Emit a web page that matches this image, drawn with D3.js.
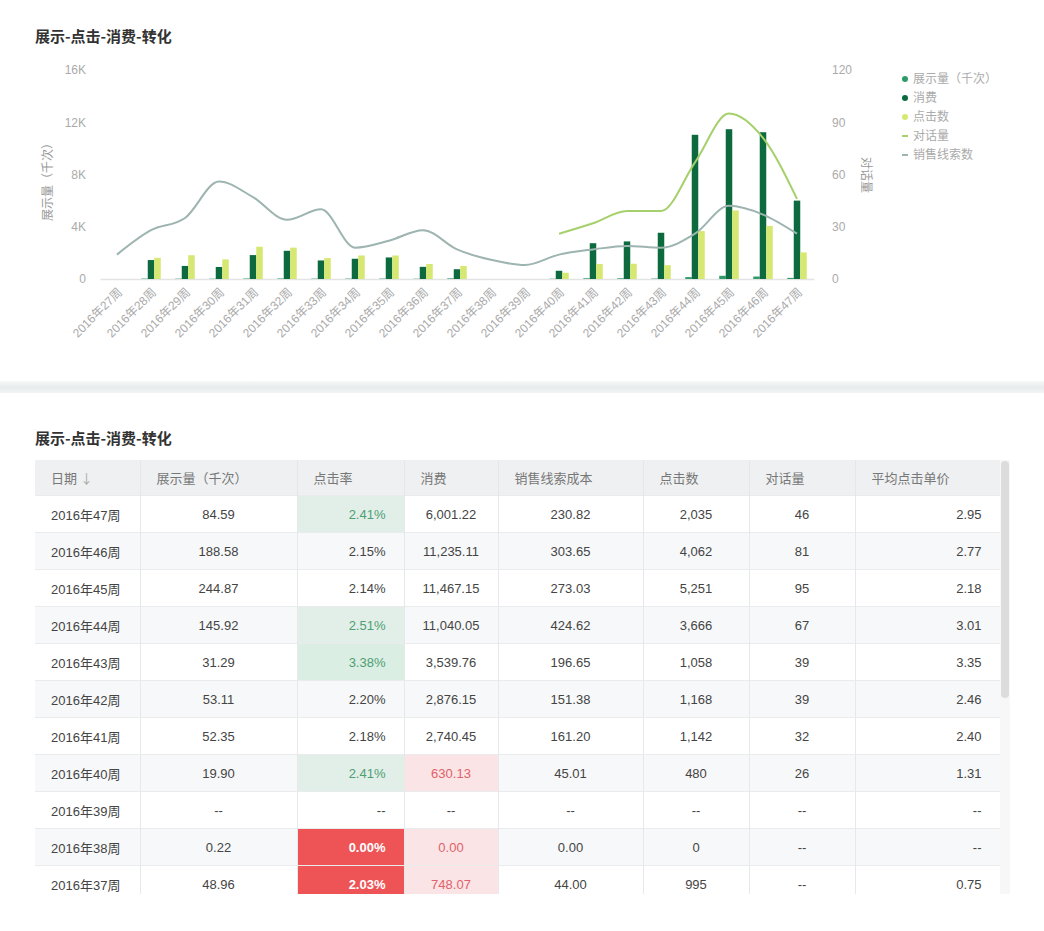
<!doctype html>
<html lang="zh">
<head>
<meta charset="UTF-8">
<title>展示-点击-消费-转化</title>
<script src="https://cdn.jsdelivr.net/npm/d3@7"></script>
<style>
    body {
        margin: 0;
        background: #fff;
        font-family: "Liberation Sans", Arial, "Noto Sans CJK SC", sans-serif;
    }
    .page { position: relative; width: 1044px; height: 931px; overflow: hidden; }
    .title {
        position: absolute; left: 35px;
        font-size: 15px; font-weight: bold; color: #333;
        font-family: "Noto Sans CJK SC", sans-serif;
    }
    .band {
        position: absolute; left: 0; top: 381px; width: 1044px; height: 12px;
        background: linear-gradient(#f6f7f7, #e9ecec 55%, #f2f4f4);
    }
    .wrap {
        position: absolute; left: 35px; top: 460px; width: 975px; height: 434px;
        overflow: hidden;
    }
    .scroll-track {
        position: absolute; left: 1000px; top: 460px; width: 10px; height: 434px;
        background: #f7f7f7;
    }
    .scroll-thumb {
        position: absolute; left: 1001px; top: 461px; width: 8px; height: 237px;
        background: #dcdcdc; border-radius: 4px;
    }
    table { border-collapse: collapse; table-layout: fixed; width: 965px; font-size: 13px; }
    th {
        height: 35px; background: #eef0f1; color: #777; font-weight: normal;
        text-align: left; padding: 0 0 0 16px; border-right: 1px solid #e4e6e8;
        font-family: "Noto Sans CJK SC", sans-serif; font-size: 13px;
    }
    td {
        height: 36px; color: #444; padding: 0 18px 0 16px;
        border-right: 1px solid #e6e8ea; border-top: 1px solid #e9ebec;
        white-space: nowrap;
    }
    tr.odd td { background: #f7f8f9; }
    td.l { text-align: left; }
    td.c { text-align: center; padding: 0; }
    td.r { text-align: right; }
</style>
</head>
<body>
<div class="page">
    <svg id="chart" width="1044" height="380" style="position:absolute;left:0;top:0"></svg>
    <div class="band"></div>
    <div class="title" style="top:427px">展示-点击-消费-转化</div>
    <div class="wrap"><table id="grid"></table></div>
    <div class="scroll-track"></div>
    <div class="scroll-thumb"></div>
</div>

<script>
    // chart data, week 27 .. week 47
    var weeks = ['2016年27周', '2016年28周', '2016年29周', '2016年30周', '2016年31周', '2016年32周',
        '2016年33周', '2016年34周', '2016年35周', '2016年36周', '2016年37周', '2016年38周',
        '2016年39周', '2016年40周', '2016年41周', '2016年42周', '2016年43周', '2016年44周',
        '2016年45周', '2016年46周', '2016年47周'];
    var impressions = [null, 30, 25, 22, 35, 38, 26, 30, 32, 20, 48.96, 0.22, null,
        19.90, 52.35, 53.11, 31.29, 145.92, 244.87, 188.58, 84.59];
    var cost = [null, 1450, 1000, 920, 1830, 2160, 1420, 1550, 1650, 930, 748.07, 0, null,
        630.13, 2740.45, 2876.15, 3539.76, 11040.05, 11467.15, 11235.11, 6001.22];
    var clicks = [null, 1620, 1820, 1500, 2470, 2400, 1600, 1800, 1800, 1150, 995, 0, null,
        480, 1142, 1168, 1058, 3666, 5251, 4062, 2035];
    var dialogs = [null, null, null, null, null, null, null, null, null, null, null, null, null,
        26, 32, 39, 39, 67, 95, 81, 46];
    var leads = [14, 28, 35, 56, 47, 34, 40, 18, 22, 28, 17, 11, 8,
        14, 17, 19, 18, 26, 42, 37, 26];
    var leftTicks = [0, 4000, 8000, 12000, 16000];
    var rightTicks = [0, 30, 60, 90, 120];

    // table data, newest week first
    var tWeeks = ['2016年47周', '2016年46周', '2016年45周', '2016年44周', '2016年43周', '2016年42周',
        '2016年41周', '2016年40周', '2016年39周', '2016年38周', '2016年37周'];
    var tImpr = [84.59, 188.58, 244.87, 145.92, 31.29, 53.11, 52.35, 19.90, null, 0.22, 48.96];
    var tCtr = [2.41, 2.15, 2.14, 2.51, 3.38, 2.20, 2.18, 2.41, null, 0.00, 2.03];
    var tCost = [6001.22, 11235.11, 11467.15, 11040.05, 3539.76, 2876.15, 2740.45, 630.13, null, 0.00, 748.07];
    var tLeadCost = [230.82, 303.65, 273.03, 424.62, 196.65, 151.38, 161.20, 45.01, null, 0.00, 44.00];
    var tClicks = [2035, 4062, 5251, 3666, 1058, 1168, 1142, 480, null, 0, 995];
    var tDialogs = [46, 81, 95, 67, 39, 39, 32, 26, null, null, null];
    var tCpc = [2.95, 2.77, 2.18, 3.01, 3.35, 2.46, 2.40, 1.31, null, null, 0.75];
    var headers = ['日期 ↓', '展示量（千次）', '点击率', '消费', '销售线索成本', '点击数', '对话量', '平均点击单价'];

    var colors = {
        impressions: '#2f9a6a',
        cost: '#0c6a3e',
        clicks: '#d6e872',
        dialogs: '#a5d06b',
        leads: '#9db4b0'
    };

    var svg = d3.select('#chart');
    var font = '"Liberation Sans", Arial, "Noto Sans CJK SC", sans-serif';
    var cjk = '"Noto Sans CJK SC", sans-serif';

    svg.append('text')
        .attr('x', 35).attr('y', 42)
        .attr('font-size', 15).attr('font-weight', 'bold')
        .attr('font-family', cjk).attr('fill', '#333')
        .text('展示-点击-消费-转化');

    var x0 = d3.scaleBand().domain(weeks).range([100, 814]);
    var series = ['impressions', 'cost', 'clicks'];
    var barW = 6.5;
    var x1 = d3.scaleBand().domain(series)
        .range([x0.bandwidth() / 2 - barW * 1.5, x0.bandwidth() / 2 + barW * 1.5]);
    var yL = d3.scaleLinear().domain([0, 16000]).range([279, 70]);
    var yR = d3.scaleLinear().domain([0, 120]).range([279, 70]);

    // left axis
    var axL = svg.append('g').attr('transform', 'translate(86,0)')
        .call(d3.axisLeft(yL).tickValues(leftTicks).tickSize(0).tickPadding(0)
            .tickFormat(function (d) { return d === 0 ? '0' : (d / 1000) + 'K'; }));
    axL.select('.domain').remove();
    axL.selectAll('text').attr('fill', '#aaa').attr('font-size', 12).attr('font-family', font);

    // right axis
    var axR = svg.append('g').attr('transform', 'translate(832,0)')
        .call(d3.axisRight(yR).tickValues(rightTicks).tickSize(0).tickPadding(0));
    axR.select('.domain').remove();
    axR.selectAll('text').attr('fill', '#aaa').attr('font-size', 12).attr('font-family', font);

    svg.append('text')
        .attr('transform', 'translate(48,179) rotate(-90)')
        .attr('text-anchor', 'middle').attr('dy', '0.35em')
        .attr('font-size', 12).attr('font-family', cjk).attr('fill', '#999')
        .text('展示量（千次）');
    svg.append('text')
        .attr('transform', 'translate(866,175) rotate(90)')
        .attr('text-anchor', 'middle').attr('dy', '0.35em')
        .attr('font-size', 12).attr('font-family', cjk).attr('fill', '#999')
        .text('对话量');

    // x axis
    var axX = svg.append('g').attr('transform', 'translate(0,279)')
        .call(d3.axisBottom(x0).tickSize(0).tickPadding(0));
    axX.select('.domain').attr('stroke', '#e2e4e4').attr('stroke-width', 1.5);
    axX.selectAll('text')
        .attr('fill', '#aaa').attr('font-size', 12).attr('font-family', font)
        .attr('text-anchor', 'end')
        .attr('transform', 'translate(0,8) rotate(-45)')
        .attr('dy', '0.7em').attr('y', 0);

    // bars
    var barData = weeks.map(function (w, i) {
        return {week: w, values: [
            {key: 'impressions', v: impressions[i]},
            {key: 'cost', v: cost[i]},
            {key: 'clicks', v: clicks[i]}
        ]};
    });
    svg.append('g').selectAll('g')
        .data(barData).enter().append('g')
        .attr('transform', function (d) { return 'translate(' + x0(d.week) + ',0)'; })
        .selectAll('rect')
        .data(function (d) { return d.values.filter(function (s) { return s.v != null; }); })
        .enter().append('rect')
        .attr('x', function (d) { return x1(d.key); })
        .attr('width', barW)
        .attr('y', function (d) { return yL(d.v); })
        .attr('height', function (d) { return yL(0) - yL(d.v); })
        .attr('fill', function (d) { return colors[d.key]; });

    // lines
    function drawLine(values, color) {
        var line = d3.line()
            .defined(function (d) { return d != null; })
            .x(function (d, i) { return x0(weeks[i]) + x0.bandwidth() / 2; })
            .y(function (d) { return yR(d); })
            .curve(d3.curveMonotoneX);
        svg.append('path')
            .datum(values)
            .attr('d', line)
            .attr('fill', 'none')
            .attr('stroke', color)
            .attr('stroke-width', 2);
    }
    drawLine(dialogs, colors.dialogs);
    drawLine(leads, colors.leads);

    // legend
    var legend = [
        {name: '展示量（千次）', key: 'impressions', type: 'dot'},
        {name: '消费', key: 'cost', type: 'dot'},
        {name: '点击数', key: 'clicks', type: 'dot'},
        {name: '对话量', key: 'dialogs', type: 'dash'},
        {name: '销售线索数', key: 'leads', type: 'dash'}
    ];
    var lg = svg.append('g').selectAll('g').data(legend).enter().append('g')
        .attr('transform', function (d, i) { return 'translate(905,' + (79 + i * 19) + ')'; });
    lg.filter(function (d) { return d.type === 'dot'; }).append('circle')
        .attr('r', 3).attr('fill', function (d) { return colors[d.key]; });
    lg.filter(function (d) { return d.type === 'dash'; }).append('rect')
        .attr('x', -3).attr('y', -1).attr('width', 6).attr('height', 2)
        .attr('fill', function (d) { return colors[d.key]; });
    lg.append('text')
        .attr('x', 8).attr('dy', '0.35em')
        .attr('font-size', 12).attr('font-family', cjk).attr('fill', '#aaa')
        .text(function (d) { return d.name; });

    // table
    var fmt2 = d3.format(',.2f');
    var fmt0 = d3.format(',');
    function show(v, f) { return v == null ? '--' : f(v); }

    var cols = [
        {cls: 'l', get: function (i) { return tWeeks[i]; }},
        {cls: 'c', get: function (i) { return show(tImpr[i], fmt2); }},
        {cls: 'r', get: function (i) { return show(tCtr[i], function (v) { return v.toFixed(2) + '%'; }); },
            style: function (i) {
                var v = tCtr[i];
                if (v == null) return null;
                if (v < 2.1) return {bg: '#ee5455', fg: '#fff', bold: true};
                if (v >= 2.4) return {bg: v > 3 ? '#dbeee3' : '#e1efe8', fg: '#4f9e74'};
                return null;
            }},
        {cls: 'c', get: function (i) { return show(tCost[i], fmt2); },
            style: function (i) {
                var v = tCost[i];
                if (v != null && v < 1000) return {bg: '#fbe4e5', fg: '#e0626a'};
                return null;
            }},
        {cls: 'c', get: function (i) { return show(tLeadCost[i], fmt2); }},
        {cls: 'c', get: function (i) { return show(tClicks[i], fmt0); }},
        {cls: 'c', get: function (i) { return show(tDialogs[i], fmt0); }},
        {cls: 'r', get: function (i) { return show(tCpc[i], fmt2); }}
    ];
    var widths = [105, 157, 107, 94, 145, 106, 106, 145];

    var table = d3.select('#grid');
    table.append('colgroup').selectAll('col').data(widths).enter().append('col')
        .style('width', function (d) { return d + 'px'; });
    table.append('thead').append('tr').selectAll('th')
        .data(headers).enter().append('th')
        .html(function (d) {
            return d.indexOf('↓') > 0 ? d.replace('↓', '<span style="color:#aaa">↓</span>') : d;
        });
    var rows = table.append('tbody').selectAll('tr')
        .data(tWeeks.map(function (d, i) { return i; }))
        .enter().append('tr')
        .attr('class', function (i) { return i % 2 ? 'odd' : 'even'; });
    rows.selectAll('td')
        .data(function (i) { return cols.map(function (c) { return {c: c, i: i}; }); })
        .enter().append('td')
        .attr('class', function (d) { return d.c.cls; })
        .text(function (d) { return d.c.get(d.i); })
        .each(function (d) {
            if (!d.c.style) return;
            var s = d.c.style(d.i);
            if (!s) return;
            d3.select(this)
                .style('background', s.bg)
                .style('color', s.fg)
                .style('font-weight', s.bold ? 'bold' : null);
        });
</script>
</body>
</html>
